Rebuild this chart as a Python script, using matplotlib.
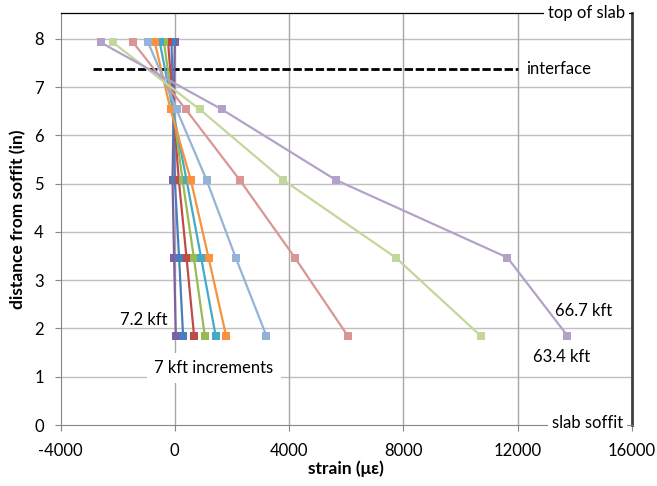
import matplotlib.pyplot as plt

plt.rcParams['font.family'] = ['Lato', 'DejaVu Sans']
plt.rcParams['axes.unicode_minus'] = False

#Gauge depths above soffit (in), top gauge first
depth = [7.93, 6.54, 5.08, 3.47, 1.85]

#Strain profiles (microstrain) at each gauge depth, one list per load step
strain_1 = [0, -40, -80, -25, 35]
strain_2 = [-115, -55, 0, 150, 290]
strain_3 = [-235, -50, 140, 410, 675]
strain_4 = [-375, -60, 270, 665, 1050]
strain_5 = [-525, -70, 410, 920, 1430]
strain_6 = [-700, -150, 560, 1180, 1795]
strain_7 = [-935, 60, 1110, 2130, 3205]
strain_8 = [-1460, 385, 2270, 4200, 6050]
strain_9 = [-2170, 875, 3790, 7730, 10700]
strain_10 = [-2600, 1650, 5630, 11640, 13740]

profiles = [strain_1, strain_2, strain_3, strain_4, strain_5,
            strain_6, strain_7, strain_8, strain_9, strain_10]
colours = ['#7D60A0', '#4A7EBB', '#BE4B48', '#98B954', '#46AAC5',
           '#F69240', '#95B3D7', '#D99694', '#C3D69B', '#B3A2C7']

#Interface between precast and topping
interface_depth = 7.375
interface_x = [-2850, 12000]

x_ticks = [-4000, 0, 4000, 8000, 12000, 16000]
y_ticks = [0, 1, 2, 3, 4, 5, 6, 7, 8]
slab_top = 8.545

fs = 12

fig = plt.figure(figsize=(6.57, 4.86), dpi=100)
ax = fig.add_axes([60.5/657, 1 - 425/486, 571.5/657, (425 - 12.7)/486])

#Gridlines
for y in y_ticks[1:]:
    ax.axhline(y, color='#BFBFBF', lw=1.0, zorder=0)
for x in [0, 4000, 8000, 12000]:
    ax.axvline(x, color='#A8A8A8', lw=1.0, zorder=0)

#Strain profiles
for strain, c in zip(profiles, colours):
    ax.plot(strain, depth, color=c, lw=1.6, marker='s', markersize=5.4,
            markeredgewidth=0, zorder=3)

ax.plot(interface_x, [interface_depth]*2, color='black', lw=2.0,
        linestyle=(0, (3, 1)), zorder=2)

ax.set_xlim(-4000, 16000)
ax.set_ylim(0, slab_top)
ax.set_xticks(x_ticks)
ax.set_yticks(y_ticks)
ax.tick_params(labelsize=fs, length=4, color='#868686')
ax.tick_params(axis='x', pad=9)
ax.tick_params(axis='y', pad=8)

ax.spines['left'].set_color('#868686')
ax.spines['bottom'].set_color('#868686')
ax.spines['top'].set_color('black')
ax.spines['top'].set_linewidth(0.9)
ax.spines['right'].set_color('#404040')
ax.spines['right'].set_linewidth(2.0)

ax.set_xlabel('strain (\u03bc\u03b5)', fontsize=12.5, fontweight='bold', labelpad=1)
ax.set_ylabel('distance from soffit (in)', fontsize=12.5, fontweight='bold', labelpad=6)

#Annotations
white = dict(facecolor='white', edgecolor='none', pad=3)
ax.text(14400, slab_top, 'top of slab', fontsize=fs, ha='center', va='center',
        bbox=white, zorder=5, clip_on=False)
ax.text(14450, 0.04, 'slab soffit', fontsize=fs, ha='center', va='center',
        bbox=white, zorder=5, clip_on=False)
ax.text(12300, interface_depth, 'interface', fontsize=fs, ha='left', va='center')
ax.text(-250, 2.18, '7.2 kft', fontsize=fs, ha='right', va='center')
ax.text(13550, 1.41, '63.4 kft', fontsize=fs, ha='center', va='center')
ax.text(14300, 2.36, '66.7 kft', fontsize=fs, ha='center', va='center')
ax.text(1370, 1.18, '7 kft increments', fontsize=fs, ha='center', va='center',
        bbox=dict(facecolor='white', edgecolor='none', pad=5), zorder=5)

fig.savefig('out.png', dpi=100)
